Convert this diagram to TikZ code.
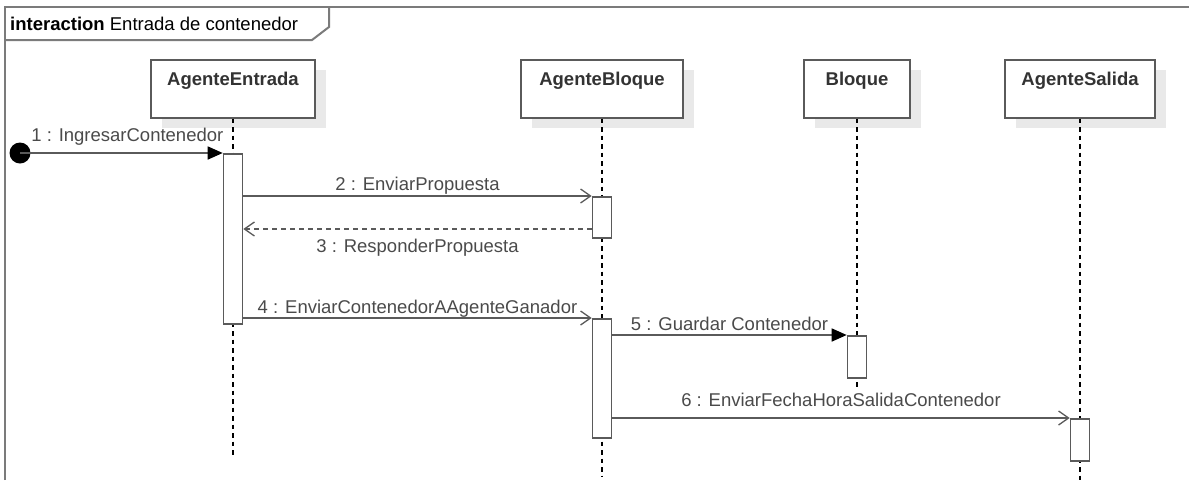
\documentclass[tikz,border=0pt]{standalone}
\usepackage{fontspec}
\setmainfont{Liberation Sans}
\usetikzlibrary{arrows.meta,shadows}
\definecolor{edge}{HTML}{5A5A5A}
\definecolor{labeltext}{HTML}{4A4A4A}
\definecolor{headtext}{HTML}{333333}
\definecolor{shade}{HTML}{E9E9E9}
\begin{document}
\begin{tikzpicture}[x=1pt,y=-1pt,
  frame/.style={draw=edge!80, line width=2pt},
  head/.style={draw=edge, line width=1.6pt, fill=white, anchor=north,
    minimum height=58pt, inner ysep=0pt, text height=25.5pt, text depth=32.5pt,
    font=\fontsize{18.5}{20}\selectfont\bfseries, text=headtext,
    drop shadow={shadow xshift=11pt, shadow yshift=-10pt, fill=shade, opacity=1}},
  act/.style={draw=edge, line width=1.6pt, fill=white, anchor=north,
    minimum width=19pt, inner sep=0pt},
  lifeline/.style={black, line width=1.3pt, dash pattern=on 4.5pt off 4pt},
  msg/.style={draw=edge, line width=1.6pt},
  call/.style={msg, -{Triangle[length=15pt,width=13pt,color=black,fill=black]}},
  async/.style={msg, -{Straight Barb[length=10pt,width=14pt,line width=1.3pt]}},
  reply/.style={msg, dash pattern=on 5pt off 4pt,
    -{Straight Barb[length=10pt,width=14pt,line width=1.3pt]}},
  msglabel/.style={font=\fontsize{18.5}{20}\selectfont, text=labeltext,
    anchor=base, inner sep=0pt}]
  \useasboundingbox (0,0) rectangle (1189,480);

  % interaction frame and its name tab
  \draw[frame] (5,480) -- (5,7) -- (1189,7);
  \draw[frame] (5,40) -- (312,40) -- (329,27) -- (329,7);
  \node[anchor=base west, inner sep=0pt, text=black,
        font=\fontsize{18.5}{20}\selectfont] (title) at (10,30)
        {\textbf{interaction} Entrada de contenedor};

  % lifeline heads
  \node[head, minimum width=164pt] (ae) at (233,59) {AgenteEntrada};
  \node[head, minimum width=162pt] (ab) at (602,59) {AgenteBloque};
  \node[head, minimum width=106pt] (bq) at (857,59) {Bloque};
  \node[head, minimum width=150pt] (as) at (1080,59) {AgenteSalida};

  % lifeline ends
  \coordinate (aeEnd) at (233,455);
  \coordinate (abEnd) at (602,476);
  \coordinate (bqEnd) at (857,390);
  \coordinate (asEnd) at (1080,480);
  \draw[lifeline] (ae.south) -- (aeEnd);
  \draw[lifeline] (ab.south) -- (abEnd);
  \draw[lifeline] (bq.south) -- (bqEnd);
  \draw[lifeline] (as.south) -- (asEnd);

  % activations
  \node[act, minimum height=170pt] (ae1) at (233,153) {};
  \node[act, minimum height=41pt] (ab1) at (602,196) {};
  \node[act, minimum height=119pt] (ab2) at (602,318) {};
  \node[act, minimum height=42pt] (bq1) at (857,335) {};
  \node[act, minimum height=42pt] (as1) at (1080,418) {};

  % found message source
  \node[circle, fill=black, minimum size=21pt, inner sep=0pt] (start) at (20,153) {};

  % messages
  \draw[call] (start.center) -- node[msglabel, xshift=6pt, yshift=12pt] {1 : IngresarContenedor} (ae1.north west);
  \draw[async] (ae1.east |- ab1.north) -- node[msglabel, yshift=6pt] {2 : EnviarPropuesta} (ab1.north west);
  \coordinate (r3) at ([yshift=-33pt]ab1.north west);
  \draw[reply] (r3) -- node[msglabel, yshift=-23pt] {3 : ResponderPropuesta} (ae1.east |- r3);
  \draw[async] (ae1.east |- ab2.north) -- node[msglabel, yshift=5pt] {4 : EnviarContenedorAAgenteGanador} (ab2.north west);
  \draw[call] (ab2.east |- bq1.north) -- node[msglabel, yshift=5pt] {5 : Guardar Contenedor} (bq1.north west);
  \draw[async] (ab2.east |- as1.north) -- node[msglabel, yshift=12pt] {6 : EnviarFechaHoraSalidaContenedor} (as1.north west);
\end{tikzpicture}
\end{document}
